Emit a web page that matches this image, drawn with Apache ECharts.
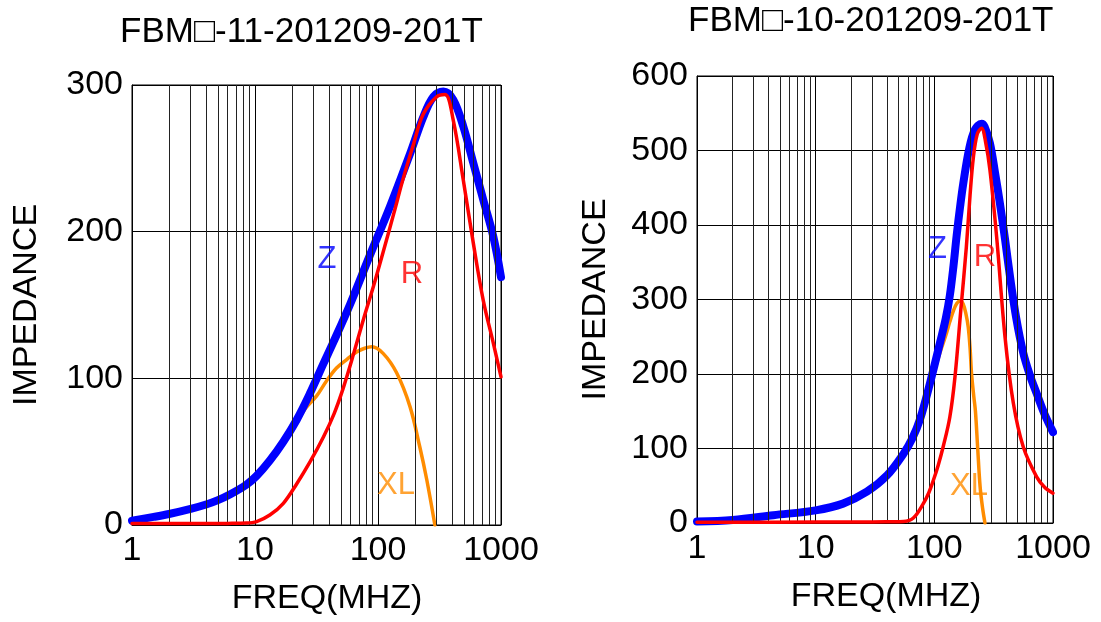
<!DOCTYPE html>
<html><head><meta charset="utf-8">
<script src="https://cdn.jsdelivr.net/npm/echarts@6/dist/echarts.min.js"></script>
<style>html,body{margin:0;padding:0;background:#fff}#c{width:1101px;height:622px}</style>
</head><body><div id="c"></div>
<script>
// ---------- texts ----------
const LEFT_TITLE = 'FBM\u25A1-11-201209-201T';
const RIGHT_TITLE = 'FBM\u25A1-10-201209-201T';
const X_NAME = 'FREQ(MHZ)';
const Y_NAME = 'IMPEDANCE';
const X_TICKS = [1, 10, 100, 1000];
const MINOR_FREQS = [2,3,4,5,6,7,8,9,20,30,40,50,60,70,80,90,200,300,400,500,600,700,800,900];
const LEFT_Y_MAX = 300, RIGHT_Y_MAX = 600, Y_STEP = 100;

// ---------- left chart (FBM-11) ----------
const leftZF = [1,1.5,2,3,4,5,6.3,8.5,10.3,13.2,17,21.8,28,36,43,59,86,125,182,233,282,340,409,494,596,718,866,1000];
const leftZ  = [3,5.5,7.5,11,14,17,21,27.5,33.5,44,56.8,71.6,89.8,110,124,150,184,217,253,278,292,295.5,290,271.6,246.6,221.6,196.6,169];
const leftRF = [1,3,6,8.5,10.3,13.2,17,21.8,28,36,44,52,63,76,92,110,135,160,195,233,300,351,409,494,596,718,866,1000];
const leftR  = [1,1,1.1,1.3,2.3,6.8,14.8,28,43,60,76,93,116,140,163,186,213,236,260,280,292,293.5,276,235,192,153,124,101];
const leftXF = [1,2,4,6.3,10.3,13.2,17,21.8,26,31.7,38,46,56,67,78,89,110,142,182,219,249,290];
const leftXL = [2.5,7,13.5,20,32.5,43,55.5,70,80,88,98,107,113,118,120.5,121.5,117,103.6,80.7,53,31,0];
const leftLabels = [['Z', 38.5, 181], ['R', 189, 170.5], ['XL', 140, 27]];

// ---------- right chart (FBM-10) ----------
const rightZF = [1,2,4.4,10,17,27,40,55,65,76,92,112,125,135,145,154,165,175,197,220,250,265,294,325,357,395,434,490,562,640,728,850,1000];
const rightZ  = [2,4,10.5,17,26,42,64,93,113,140,188,243,275,305,345,385,425,455,503,528,536,532,510,470,429,380,331,275,228,198,174,146,122];
const rightRF = [1,10,30,50,55,66.5,80.7,90,98,108,119,135,149,167,186,200,213,230,250,270,294,335,394,463,562,728,850,1000];
const rightR  = [1,1.2,1.5,1.8,2,6.7,26,41,57,78,103,142,195,285,370,440,490,522,530,512,474,384,250,161,102,62,48,40];
const rightXF = [1,2,4.4,10,17,27,40,55,65,76,92,105,115,125,135,145,155,165,175,185,193,200,206,215,222,232,243,255,267];
const rightXL = [2,4,10.5,17,26,41,63,92,111,138,184,215,235,252,270,285,295,298,294,280,263,235,200,170,150,100,49,20,0];
const rightLabels = [['Z', 106.4, 367], ['R', 267, 356], ['XL', 196, 49]];

// ---------- styles ----------
const FONT = 'Liberation Sans';
const FS = 34;
const C_Z = '#0000ff', C_R = '#ff0000', C_XL = '#ff8c00';
const LABEL_COLORS = {Z: C_Z, R: C_R, XL: C_XL};

const pairs = (fs, vs) => fs.map((f, i) => [f, vs[i]]);

function xAxisCfg(gi, namePadLeft) {
  return {
    type: 'log', logBase: 10, min: X_TICKS[0], max: X_TICKS[X_TICKS.length - 1], gridIndex: gi,
    name: X_NAME, nameLocation: 'middle', nameGap: 57,
    nameTextStyle: {fontFamily: FONT, fontSize: FS, color: '#000', padding: [0, 0, 0, namePadLeft]},
    axisLine: {show: true, lineStyle: {color: '#000', width: 1}},
    axisTick: {show: false},
    axisLabel: {fontFamily: FONT, fontSize: FS, color: '#000', margin: 9, formatter: v => String(v)},
    splitLine: {show: true, lineStyle: {color: '#000', width: 1}}
  };
}
function yAxisCfg(gi, max, gap) {
  return {
    type: 'value', min: 0, max: max, interval: Y_STEP, gridIndex: gi,
    name: Y_NAME, nameLocation: 'middle', nameGap: gap,
    nameTextStyle: {fontFamily: FONT, fontSize: FS, color: '#000'},
    axisLine: {show: true, lineStyle: {color: '#000', width: 1}},
    axisTick: {show: false},
    axisLabel: {fontFamily: FONT, fontSize: FS, color: '#000', margin: 9},
    splitLine: {show: true, lineStyle: {color: '#000', width: 1}}
  };
}
function gridLinesSeries(ai) {
  return {
    type: 'line', xAxisIndex: ai, yAxisIndex: ai, data: [], silent: true, z: 1,
    markLine: {
      silent: true, symbol: ['none', 'none'], label: {show: false}, animation: false,
      lineStyle: {color: '#222', width: 1, type: 'solid'},
      emphasis: {disabled: true},
      data: MINOR_FREQS.map(f => ({xAxis: f}))
    }
  };
}
function curve(ai, data, color, width, z) {
  return {
    type: 'line', xAxisIndex: ai, yAxisIndex: ai, data: data, showSymbol: false, symbol: 'none',
    smooth: 0.35, z: z, clip: true,
    lineStyle: {color: color, width: width, cap: 'round', join: 'round'}
  };
}
function labelSeries(ai, labels) {
  return {
    type: 'scatter', xAxisIndex: ai, yAxisIndex: ai, symbolSize: 0, z: 10, silent: true,
    data: labels.map(l => ({value: [l[1], l[2]], name: l[0],
      label: {color: LABEL_COLORS[l[0]]}})),
    label: {show: true, position: 'inside', formatter: p => p.name, fontFamily: FONT, fontSize: 31}
  };
}

const chart = echarts.init(document.getElementById('c'), null, {renderer: 'canvas'});
chart.setOption({
  animation: false,
  backgroundColor: '#fff',
  title: [
    {text: LEFT_TITLE, left: 120, top: 15, padding: 0, textStyle: {fontFamily: FONT, fontSize: 35, fontWeight: 'normal', color: '#000'}},
    {text: RIGHT_TITLE, left: 688, top: 4, padding: 0, textStyle: {fontFamily: FONT, fontSize: 35, fontWeight: 'normal', color: '#000'}}
  ],
  grid: [
    {left: 132, top: 85, width: 369, height: 440, show: true, borderColor: '#000', borderWidth: 1},
    {left: 697, top: 76, width: 356, height: 447, show: true, borderColor: '#000', borderWidth: 1}
  ],
  xAxis: [xAxisCfg(0, 21), xAxisCfg(1, 22)],
  yAxis: [yAxisCfg(0, LEFT_Y_MAX, 88), yAxisCfg(1, RIGHT_Y_MAX, 84)],
  series: [
    gridLinesSeries(0),
    curve(0, pairs(leftXF, leftXL), C_XL, 3.5, 3),
    curve(0, pairs(leftZF, leftZ), C_Z, 8, 4),
    curve(0, pairs(leftRF, leftR), C_R, 3.5, 5),
    labelSeries(0, leftLabels),
    gridLinesSeries(1),
    curve(1, pairs(rightXF, rightXL), C_XL, 3.5, 3),
    curve(1, pairs(rightZF, rightZ), C_Z, 8, 4),
    curve(1, pairs(rightRF, rightR), C_R, 3.5, 5),
    labelSeries(1, rightLabels)
  ]
});
</script></body></html>
